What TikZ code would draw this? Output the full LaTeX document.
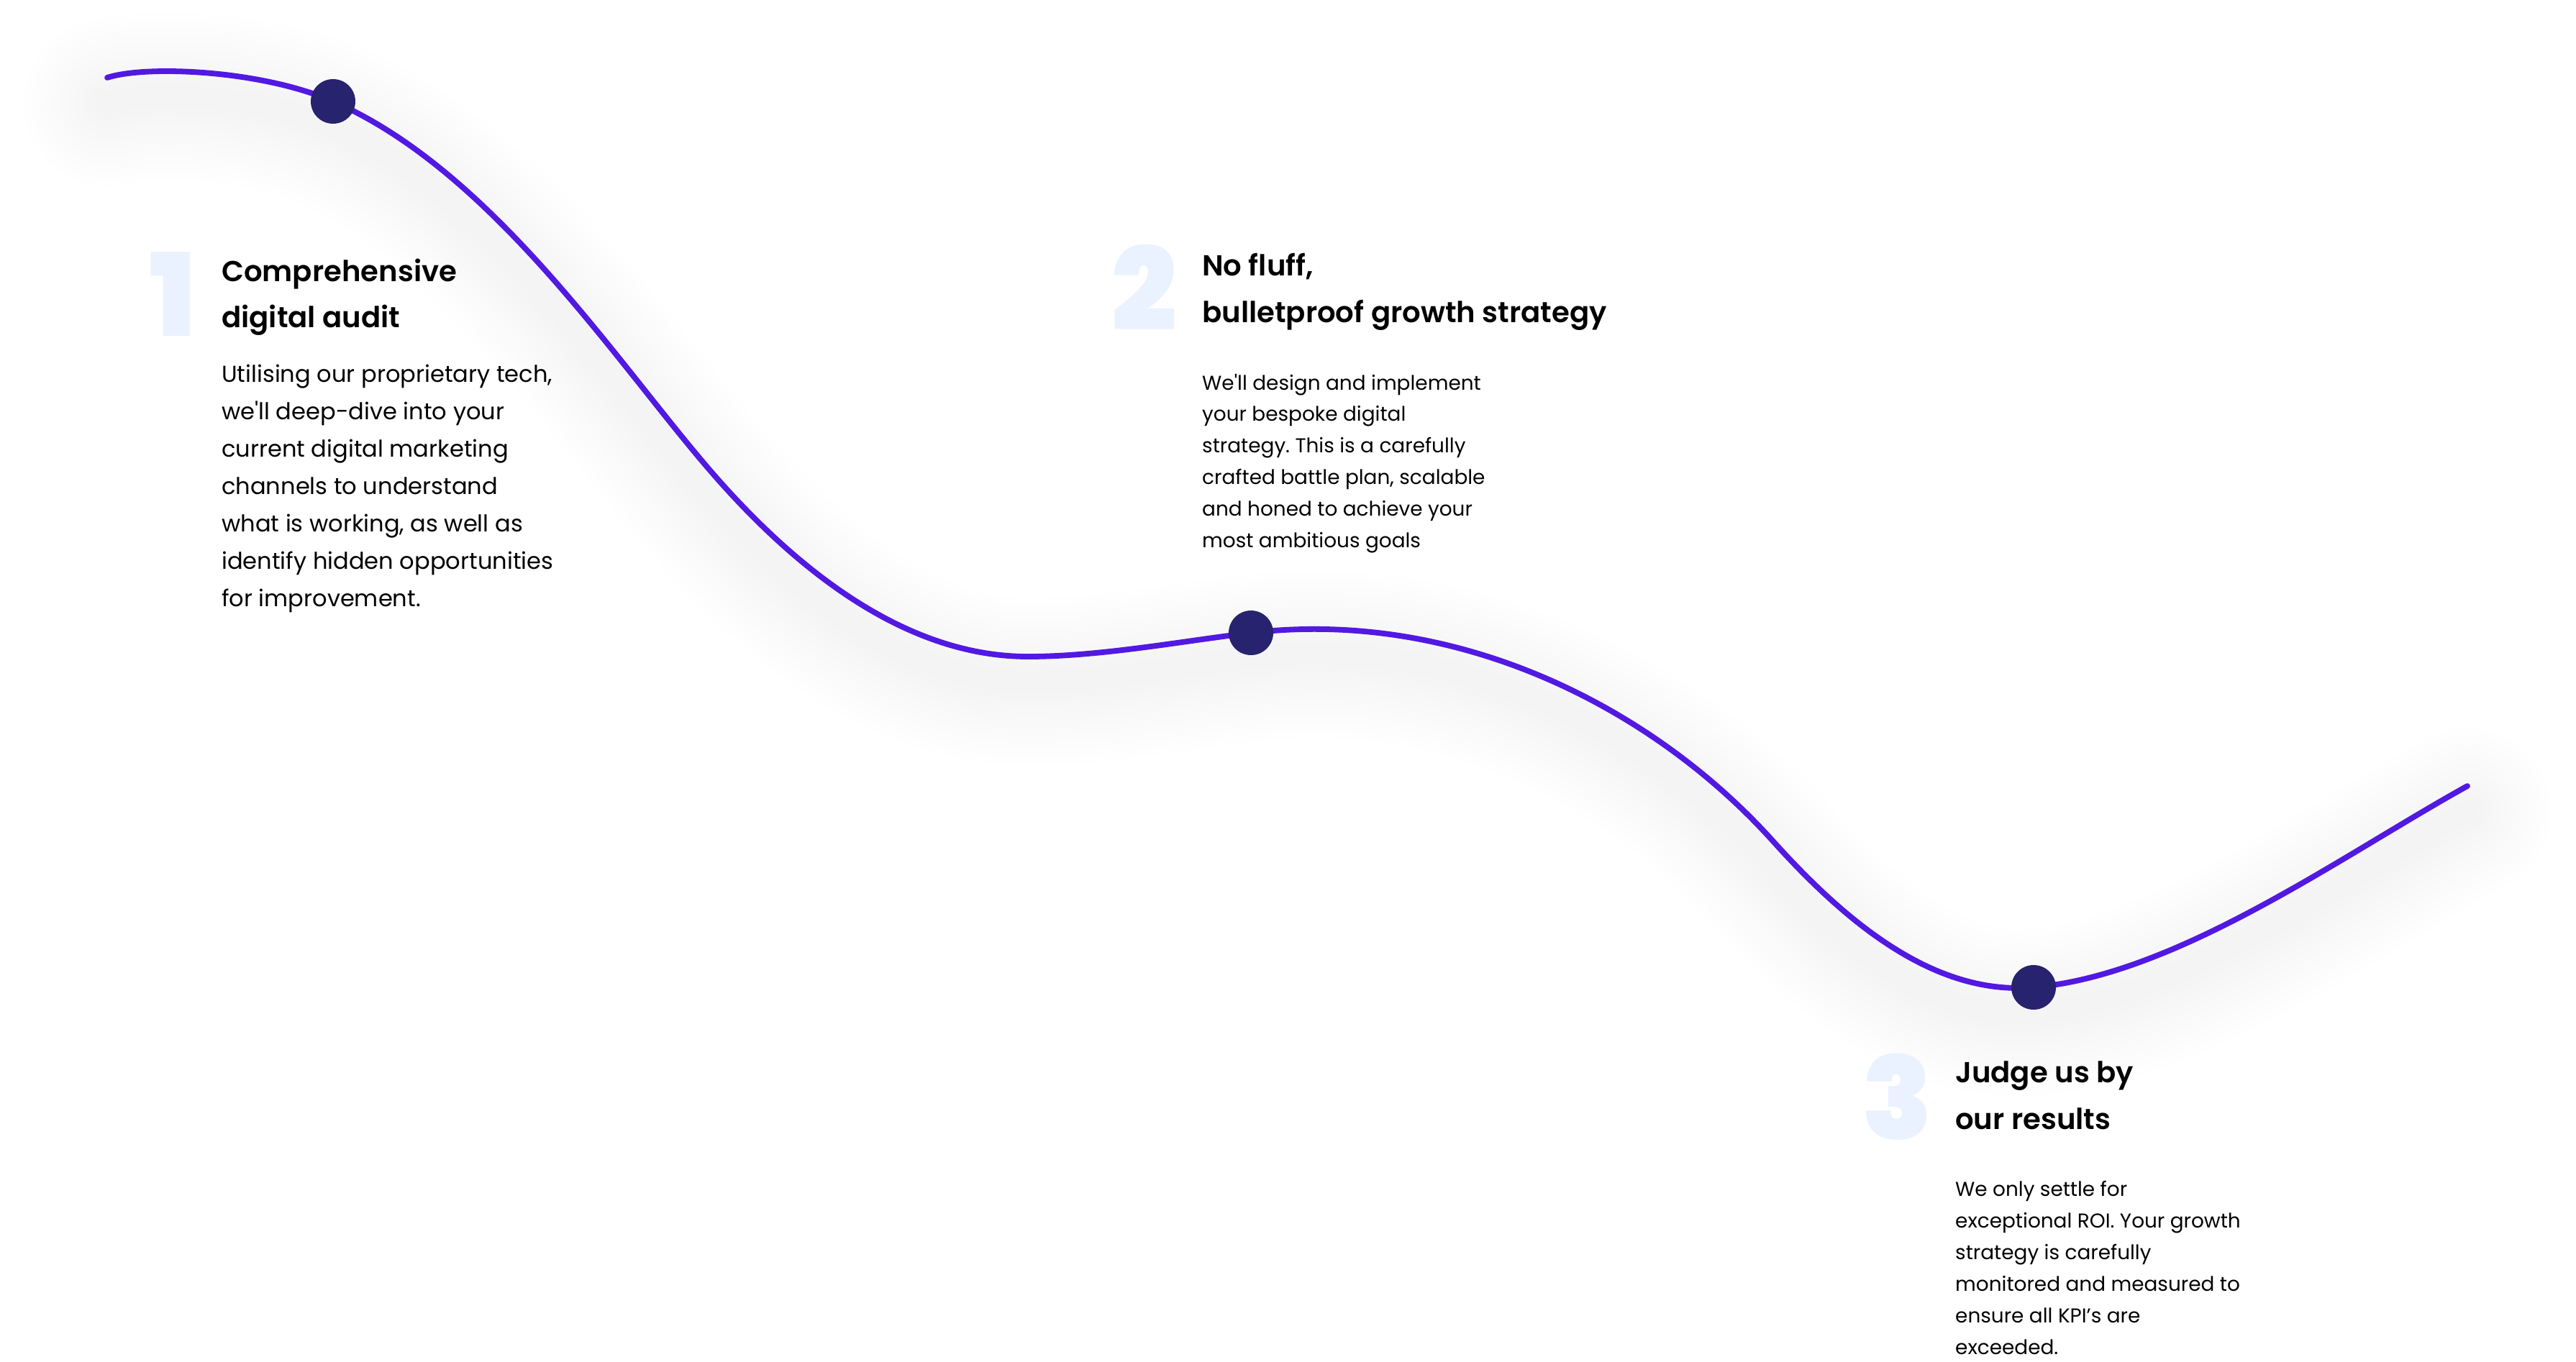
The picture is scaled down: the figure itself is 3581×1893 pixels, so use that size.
\documentclass[tikz,border=0pt]{standalone}
\usepackage{fontspec}
\setmainfont{Poppins}
\newfontfamily\titlefont{Poppins SemiBold}
\newfontfamily\numfont{Poppins Black}
\definecolor{curvec}{HTML}{5219E2}
\definecolor{dotc}{HTML}{28236E}
\definecolor{numc}{HTML}{EBF2FF}
\definecolor{shadc}{HTML}{C8C8E4}
\definecolor{txtc}{HTML}{000000}
\begin{document}
\frenchspacing
\begin{tikzpicture}[x=1pt,y=-1pt,
  dotnode/.style={circle,fill=dotc,inner sep=0pt,minimum size=62pt},
  numtext/.style={inner sep=0pt,anchor=base west,text=numc,font=\numfont\fontsize{160}{160}\selectfont},
  titletext/.style={inner sep=0pt,anchor=base west,text=txtc,font=\titlefont\fontsize{40.2}{50}\selectfont},
  bodyA/.style={inner sep=0pt,anchor=base west,text=txtc,font=\fontsize{32.1}{40}\selectfont},
  bodyB/.style={inner sep=0pt,anchor=base west,text=txtc,font=\fontsize{27.9}{36}\selectfont},
  curveline/.style={draw=curvec,line width=7.8pt,line cap=round}]
\useasboundingbox (0,0) rectangle (3581,1893);
\fill[white] (0,0) rectangle (3581,1893);
% waypoints of the curve
\coordinate (s) at (149,108);
\coordinate (p1) at (463,141);
\coordinate (m1) at (975,640);
\coordinate (t1) at (1429,913);
\coordinate (p2) at (1739,880);
\coordinate (m2) at (2465,1170);
\coordinate (p3) at (2827,1373);
\coordinate (e) at (3430,1093);
\path[save path=\crv] (s) .. controls (205,90) and (365,98) .. (p1)
  .. controls (677,234) and (846,487) .. (m1)
  .. controls (1091,778) and (1249,913) .. (t1)
  .. controls (1529,913) and (1640,892) .. (p2)
  .. controls (2027,846) and (2298,984) .. (m2)
  .. controls (2565,1281) and (2688,1385) .. (p3)
  .. controls (3026,1356) and (3255,1190) .. (e);
% soft shadow
\begin{scope}[transform canvas={yshift=-35pt}]
\foreach \w in {30,50,...,230}
  \draw[use path=\crv, draw=shadc, line width=\w pt, opacity=0.011, line cap=round];
\end{scope}
\draw[use path=\crv, curveline];
% dots
\node[dotnode] (d1) at (p1) {};
\node[dotnode] (d2) at (p2) {};
\node[dotnode] (d3) at (p3) {};
% big numbers
\node[numtext] (n1) at (208,467) {1};
\node[numtext] (n2) at (1545,459) {2};
\node[numtext] (n3) at (2588,1584) {3};
% block 1
\node[titletext] (h1a) at (308,391) {Comprehensive};
\node[titletext] (h1b) at (308,455) {digital audit};
\foreach \t [count=\i from 0] in {{Utilising our proprietary tech,},{we\textquotesingle ll deep-dive into your},{current digital marketing},{channels to understand},{what is working, as well as},{identify hidden opportunities},{for improvement.}}
  \node[bodyA] (a\i) at (308,{531+52*\i}) {\t};
% block 2
\node[titletext] (h2a) at (1671,383) {No fluff,};
\node[titletext] (h2b) at (1671,448) {bulletproof growth strategy};
\foreach \t [count=\i from 0] in {{We\textquotesingle ll design and implement},{your bespoke digital},{strategy. This is a carefully},{crafted battle plan, scalable},{and honed to achieve your},{most ambitious goals}}
  \node[bodyB] (b\i) at (1671,{542+43.9*\i}) {\t};
% block 3
\node[titletext] (h3a) at (2718,1505) {Judge us by};
\node[titletext] (h3b) at (2718,1570) {our results};
\foreach \t [count=\i from 0] in {{We only settle for},{exceptional ROI. Your growth},{strategy is carefully},{monitored and measured to},{ensure all KPI’s are},{exceeded.}}
  \node[bodyB] (c\i) at (2718,{1663+44*\i}) {\t};
\end{tikzpicture}
\end{document}
